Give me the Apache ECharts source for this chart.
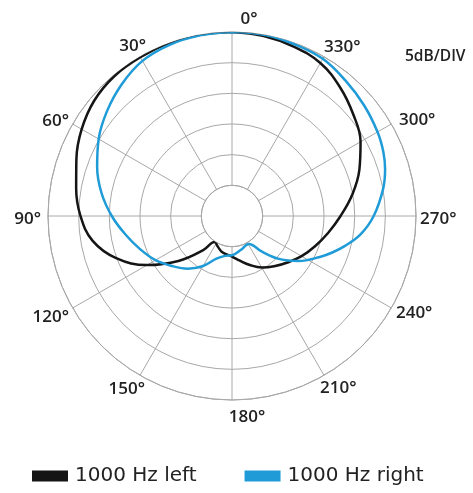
<!DOCTYPE html>
<html>
<head>
<meta charset="utf-8">
<script src="https://cdn.jsdelivr.net/npm/echarts@6/dist/echarts.min.js"></script>
<style>
html,body{margin:0;padding:0;background:#fff;}
#chart{width:473px;height:493px;}
</style>
</head>
<body>
<div id="chart"></div>
<script>
// Angle tick labels (degrees)
const angleTicks = [0, 30, 60, 90, 120, 150, 180, 210, 240, 270, 300, 330];
// Radius ticks (dB), 5 dB per division
const radiusTicks = [-25, -20, -15, -10, -5, 0];

// 1000 Hz left (black)
const leftAngles = [0, 10, 20, 30, 40, 50, 60, 70, 80, 90, 100, 110, 120, 130, 140, 146, 155, 165, 180, 190, 200, 210, 220, 230, 240, 250, 260, 270, 280, 290, 300, 310, 320, 330, 340, 350, 360];
const leftDb = [0, 0, 0, -0.1, -0.2, -0.7, -1.7, -3.0, -4.2, -5.3, -6.9, -9.9, -14.0, -18.6, -22.8, -24.9, -24.5, -23.9, -23.4, -22.6, -21.5, -20.3, -19.3, -18.2, -16.9, -15.6, -14.1, -12.3, -10.1, -7.9, -5.8, -4.2, -2.6, -1.2, -0.6, -0.2, 0];

// 1000 Hz right (blue)
const rightAngles = [0, 10, 20, 30, 40, 50, 60, 70, 80, 90, 100, 110, 120, 130, 140, 150, 160, 170, 180, 195, 211, 220, 228, 236, 245, 250, 255, 262, 270, 280, 287, 293, 300, 310, 320, 330, 340, 350, 360];
const rightDb = [0, -0.1, -0.3, -0.8, -2.0, -3.4, -4.9, -6.6, -8.4, -10.4, -12.4, -14.1, -15.6, -17.3, -18.8, -20.6, -22.6, -23.4, -23.6, -24.3, -24.7, -22.4, -19.5, -16.9, -14.2, -12.6, -11.0, -8.8, -6.9, -5.0, -3.9, -3.2, -2.6, -1.9, -1.2, -0.4, -0.2, 0, 0];

const seriesNames = ['1000 Hz left', '1000 Hz right'];
const seriesColors = ['#151515', '#1f9bd7'];

const FONT = 'Open Sans';
const LFONT = 'DejaVu Sans';
const TXT = '#222';

function pairs(angles, vals) {
  return angles.map((a, i) => [vals[i], a]);
}

const labelStyle = { fontFamily: FONT, fontSize: 17, fontWeight: 600, color: TXT };
// per-label nudges (padding: top, right, bottom, left)
const labelPads = {
  0: [0, 0, 16, 34], 30: [0, 0, 12, 0], 60: [0, 14, 0, 0], 90: [6, 19, 0, 0],
  120: [7, 14, 0, 0], 150: [16, 1, 0, 0], 180: [21, 0, 0, 30], 210: [15, 0, 0, 2],
  240: [3, 0, 0, 15], 270: [6, 0, 0, 16], 300: [0, 0, 1, 18], 330: [0, 0, 11, 6]
};
const rich = {};
angleTicks.forEach(a => { rich['a' + a] = Object.assign({ padding: labelPads[a] }, labelStyle); });

const chart = echarts.init(document.getElementById('chart'), null, {renderer: 'canvas'});
chart.setOption({
  animation: false,
  backgroundColor: '#fff',
  polar: { center: [232, 216], radius: [30.7, 184] },
  angleAxis: {
    type: 'value', min: 0, max: 360, interval: 30,
    startAngle: 90, clockwise: false,
    axisLine: { show: true, lineStyle: { color: '#a8a8a8', width: 1 } },
    axisTick: { show: false },
    splitLine: { show: true, lineStyle: { color: '#a8a8a8', width: 1 } },
    axisLabel: Object.assign({
      show: true, margin: -12,
      formatter: function (v) {
        if (angleTicks.indexOf(v) < 0) return '';
        return '{a' + v + '|' + v + '°}';
      },
      rich: rich
    }, labelStyle)
  },
  radiusAxis: {
    type: 'value', min: radiusTicks[0], max: radiusTicks[radiusTicks.length - 1], interval: 5,
    axisLine: { show: false }, axisTick: { show: false }, axisLabel: { show: false },
    splitLine: { show: true, lineStyle: { color: '#a8a8a8', width: 1 } }
  },
  legend: {
    left: 27, top: 461,
    icon: 'rect', itemWidth: 36, itemHeight: 11, itemGap: 48,
    textStyle: { fontFamily: LFONT, fontSize: 20, color: TXT, padding: [0, 0, 0, 2] },
    data: seriesNames
  },
  graphic: [{
    type: 'text', left: 405, top: 49,
    style: { text: '5dB/DIV', fontFamily: FONT, fontSize: 15.5, fontWeight: 600, fill: TXT }
  }],
  series: [
    {
      name: seriesNames[0], type: 'line', coordinateSystem: 'polar',
      data: pairs(leftAngles, leftDb), showSymbol: false, smooth: 0.4,
      lineStyle: { color: seriesColors[0], width: 2.5 }, itemStyle: { color: seriesColors[0] }
    },
    {
      name: seriesNames[1], type: 'line', coordinateSystem: 'polar',
      data: pairs(rightAngles, rightDb), showSymbol: false, smooth: 0.4,
      lineStyle: { color: seriesColors[1], width: 2.5 }, itemStyle: { color: seriesColors[1] }
    }
  ]
});
</script>
</body>
</html>
